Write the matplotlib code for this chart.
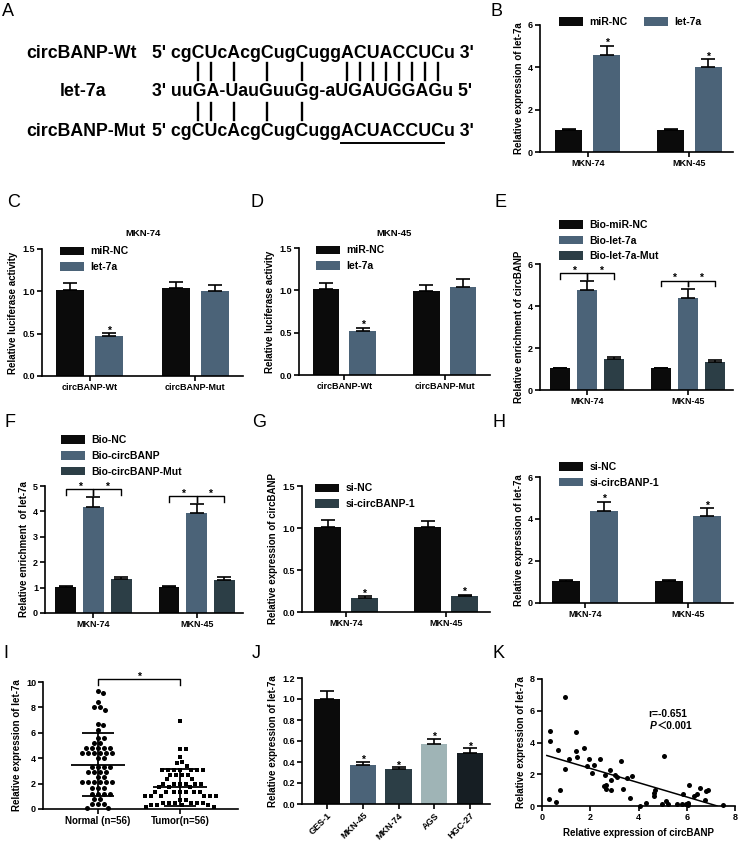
import numpy as np
import matplotlib
matplotlib.use('Agg')
import matplotlib.pyplot as plt
from matplotlib.font_manager import FontProperties

plt.rcParams['font.family'] = ['Liberation Sans', 'Noto Sans CJK SC', 'DejaVu Sans']
plt.rcParams['font.weight'] = 'bold'
plt.rcParams['axes.labelweight'] = 'bold'
plt.rcParams['axes.titleweight'] = 'bold'

# ---------------- data ----------------
cells = ['MKN-74', 'MKN-45']
constructs = ['circBANP-Wt', 'circBANP-Mut']

b_mirnc = [1.02, 1.02]
b_mirnc_err = [0.05, 0.05]
b_let7a = [4.6, 4.02]
b_let7a_err = [0.42, 0.38]

c_mirnc = [1.01, 1.04]
c_mirnc_err = [0.09, 0.07]
c_let7a = [0.47, 1.00]
c_let7a_err = [0.04, 0.08]

d_mirnc = [1.01, 0.99]
d_mirnc_err = [0.08, 0.07]
d_let7a = [0.52, 1.04]
d_let7a_err = [0.04, 0.09]

e_labels = ['Bio-miR-NC', 'Bio-let-7a', 'Bio-let-7a-Mut']
e_vals = [[1.03, 1.03], [4.75, 4.38], [1.46, 1.35]]
e_errs = [[0.04, 0.04], [0.45, 0.42], [0.11, 0.09]]
e_brackets = [5.55, 5.2]

f_labels = ['Bio-NC', 'Bio-circBANP', 'Bio-circBANP-Mut']
f_vals = [[1.03, 1.03], [4.18, 3.93], [1.33, 1.30]]
f_errs = [[0.05, 0.05], [0.4, 0.38], [0.1, 0.1]]
f_brackets = [4.88, 4.6]

g_sinc = [1.01, 1.01]
g_sinc_err = [0.08, 0.07]
g_si = [0.17, 0.19]
g_si_err = [0.015, 0.015]

h_sinc = [1.03, 1.03]
h_sinc_err = [0.05, 0.05]
h_si = [4.4, 4.15]
h_si_err = [0.42, 0.38]

i_normal = [9.3, 9.1, 8.4, 8.0, 8.0, 7.8, 6.7, 6.6, 6.2, 5.6, 5.6, 5.2, 5.2,
            4.8, 4.8, 4.8, 4.8, 4.8, 4.4, 4.4, 4.4, 4.4, 4.4, 4.4, 4.0, 4.0,
            3.3, 3.3, 3.3, 3.3, 2.9, 2.9, 2.9, 2.9, 2.5, 2.5,
            2.1, 2.1, 2.1, 2.1, 2.1, 2.1, 1.65, 1.65, 1.65, 1.2, 1.2, 1.2, 1.2,
            0.8, 0.8, 0.4, 0.4, 0.4, 0.1, 0.1]
i_tumor = [6.9, 4.7, 4.7, 4.1, 3.7, 3.6, 3.4,
           3.1, 3.1, 3.1, 3.1, 3.1, 3.1, 3.1, 2.7, 2.7, 2.7, 2.7, 2.35, 2.35,
           2.0, 2.0, 2.0, 2.0, 2.0, 2.0, 1.7, 1.7, 1.7,
           1.35, 1.35, 1.35, 1.35, 1.35, 1.35, 1.35, 1.05, 1.05, 1.05, 1.05, 1.05, 1.05,
           0.7, 0.7, 0.45, 0.45, 0.45, 0.45, 0.45, 0.45, 0.3, 0.3, 0.3, 0.3, 0.15, 0.15]
i_groups = ['Normal (n=56)', 'Tumor(n=56)']
i_means = [3.5, 1.7]
i_sds = [2.5, 1.45]

j_lines = ['GES-1', 'MKN-45', 'MKN-74', 'AGS', 'HGC-27']
j_vals = [1.0, 0.37, 0.33, 0.57, 0.49]
j_errs = [0.08, 0.03, 0.02, 0.05, 0.04]

k_circ = [0.28, 0.34, 0.34, 0.59, 0.66, 0.76, 0.94, 0.94, 1.13, 1.43, 1.43, 1.45,
          1.74, 1.86, 1.96, 2.08, 2.17, 2.41, 2.55, 2.62, 2.65, 2.66, 2.83, 2.86,
          2.88, 3.01, 3.12, 3.26, 3.37, 3.53, 3.66, 3.75, 4.06, 4.32, 4.65, 4.65,
          4.68, 4.97, 5.06, 5.13, 5.21, 5.59, 5.83, 5.82, 5.97, 6.06, 6.10, 6.07,
          6.32, 6.41, 6.55, 6.76, 6.80, 6.90, 7.52]
k_let7a = [0.42, 4.74, 4.08, 0.25, 3.52, 0.99, 6.88, 2.36, 2.93, 4.65, 3.45, 3.09,
           3.66, 2.53, 2.93, 2.08, 2.57, 2.95, 1.26, 1.98, 1.30, 1.05, 2.25, 1.03,
           1.66, 1.98, 1.85, 2.82, 1.05, 1.75, 0.53, 1.90, 0.02, 0.19, 0.63, 0.84,
           1.01, 0.11, 3.12, 0.32, 0.11, 0.15, 0.78, 0.11, 0.13, 0.21, 1.35, 0.04,
           0.65, 0.74, 1.16, 0.36, 0.95, 1.03, 0.06]
k_fit = (3.27, -0.45)   # intercept, slope as drawn
k_fit_x = (0.2, 7.25)

wt_seq = "cgCUcAcgCugCuggACUACCUCu"
mir_seq = "uuGA-UauGuuGg-aUGAUGGAGu"
mut_pairs = 5  # only the first five pairs remain in the mutant

# ---------------- style ----------------
BLACK = '#0b0b0b'
SLATE = '#4b6378'
DARK = '#2c3e46'
LIGHT = '#9fb4b6'
DARKEST = '#161e23'

W, H = 738, 842
fig = plt.figure(figsize=(W / 100, H / 100), dpi=100)


def px_rect(l, t, r, b):
    return [l / W, 1 - b / H, (r - l) / W, (b - t) / H]


def style(ax):
    for s in ['top', 'right']:
        ax.spines[s].set_visible(False)
    for s in ['left', 'bottom']:
        ax.spines[s].set_linewidth(1.2)
    ax.tick_params(width=1.2, length=3.5, labelsize=6.5, pad=1.5)


def bars(ax, x, vals, errs, w, color, label=None):
    ax.bar(x, vals, w, color=color, label=label, zorder=2)
    ax.errorbar(x, vals, yerr=[np.zeros(len(vals)), errs], fmt='none',
                ecolor='black', elinewidth=1.2, capsize=4.8, capthick=1.2, zorder=3)


def star(ax, x, y):
    ax.text(x, y, '*', ha='center', va='bottom', fontsize=7.5)


def legend(ax, x, y, ncol=1, **kw):
    ax.legend(loc='upper left', bbox_to_anchor=(x, y), ncol=ncol, frameon=False,
              fontsize=7.5, handlelength=2.3, handleheight=0.9, handletextpad=0.6,
              borderpad=0, borderaxespad=0, labelspacing=0.55, columnspacing=1.6, **kw)


def letter(x, y, s):
    fig.text(x / W, 1 - y / H, s, fontsize=13, fontweight='normal', ha='left', va='top')


# ---------------- A ----------------
letter(2, 3, 'A')
rend = fig.canvas.get_renderer()
prop = FontProperties(family=['Liberation Sans'], weight='bold', size=12.8)


def width(s):
    if not s:
        return 0.0
    w, _, _ = rend.get_text_width_height_descent(s, prop, ismath=False)
    return w


x0 = 152
rows_y = [53, 92, 131]
names = ['circBANP-Wt', 'let-7a', 'circBANP-Mut']
name_x = [26, 60, 26]
seqs = ["5' " + wt_seq + " 3'", "3' " + mir_seq + " 5'", "5' " + wt_seq + " 3'"]
for nm, nx, sq, ry in zip(names, name_x, seqs, rows_y):
    fig.text(nx / W, 1 - ry / H, nm, fontproperties=prop, ha='left', va='center')
    fig.text(x0 / W, 1 - ry / H, sq, fontproperties=prop, ha='left', va='center')

pair_idx = [i for i, c in enumerate(wt_seq) if c.isupper()]
for k, i in enumerate(pair_idx):
    xc = x0 + width("5' " + wt_seq[:i]) + width(wt_seq[i]) / 2
    fig.add_artist(plt.Line2D([xc / W, xc / W], [1 - 63 / H, 1 - 80 / H], color='black', lw=1.7))
    if k < mut_pairs:
        fig.add_artist(plt.Line2D([xc / W, xc / W], [1 - 103 / H, 1 - 120 / H], color='black', lw=1.7))
u0 = x0 + width("5' " + wt_seq[:15])
u1 = x0 + width("5' " + wt_seq[:23])
fig.add_artist(plt.Line2D([u0 / W, u1 / W], [1 - 143 / H, 1 - 143 / H], color='black', lw=1.4))

# ---------------- B ----------------
letter(491, 3, 'B')
ax = fig.add_axes(px_rect(540, 25, 733, 152))
style(ax)
x = np.arange(len(cells))
bars(ax, x - 0.185, b_mirnc, b_mirnc_err, 0.265, BLACK, 'miR-NC')
bars(ax, x + 0.185, b_let7a, b_let7a_err, 0.265, SLATE, 'let-7a')
for xi, v, e in zip(x + 0.185, b_let7a, b_let7a_err):
    star(ax, xi, v + e - 0.12)
ax.set_xlim(-0.47, 1.43)
ax.set_ylim(0, 6)
ax.set_yticks([0, 2, 4, 6])
ax.set_xticks(x, cells)
ax.set_ylabel('Relative expression of let-7a', fontsize=7, labelpad=3)
legend(ax, 0.1, 1.06, ncol=2)

# ---------------- C / D ----------------
for lab, lx, rect, title, nc, nce, lt, lte in [
        ('C', 7, (42, 249, 243, 376), 'MKN-74', c_mirnc, c_mirnc_err, c_let7a, c_let7a_err),
        ('D', 250, (299, 248, 490, 375), 'MKN-45', d_mirnc, d_mirnc_err, d_let7a, d_let7a_err)]:
    letter(lx, 194, lab)
    ax = fig.add_axes(px_rect(*rect))
    style(ax)
    bars(ax, x - 0.182, nc, nce, 0.266, BLACK, 'miR-NC')
    bars(ax, x + 0.182, lt, lte, 0.266, SLATE, 'let-7a')
    star(ax, x[0] + 0.182, lt[0] + lte[0] - 0.03)
    ax.set_xlim(-0.45, 1.45)
    ax.set_ylim(0, 1.5)
    ax.set_yticks([0, 0.5, 1.0, 1.5])
    ax.set_xticks(x, constructs)
    ax.set_title(title, fontsize=6.8, pad=9)
    ax.set_ylabel('Relative luciferase activity', fontsize=7, labelpad=3)
    legend(ax, 0.09, 1.02)

# ---------------- E / F ----------------
for lab, lpos, rect, names3, vals, errs, brk, ylim, yt, ylab, lanchor in [
        ('E', (494, 194), (540, 264, 733, 390), e_labels, e_vals, e_errs, e_brackets,
         6, [0, 2, 4, 6], 'Relative enrichment of circBANP', (0.1, 1.35)),
        ('F', (5, 414), (45, 486, 243, 613), f_labels, f_vals, f_errs, f_brackets,
         5, [0, 1, 2, 3, 4, 5], 'Relative enrichment  of let-7a', (0.08, 1.4))]:
    letter(*lpos, lab)
    ax = fig.add_axes(px_rect(*rect))
    style(ax)
    cols = [BLACK, SLATE, DARK]
    offs = [-0.27, 0, 0.27]
    for nm, v, e, c, o in zip(names3, vals, errs, cols, offs):
        bars(ax, x + o, v, e, 0.198, c, nm)
    for gi, h in enumerate(brk):
        drop = 0.045 * ylim
        for a, b in [(-0.27, 0), (0, 0.27)]:
            ax.plot([gi + a, gi + a, gi + b, gi + b], [h - drop, h, h, h - drop],
                    color='black', lw=1.0, zorder=4)
            star(ax, gi + (a + b) / 2, h - 0.02 * ylim)
    ax.set_xlim(-0.47, 1.45)
    ax.set_ylim(0, ylim)
    ax.set_yticks(yt)
    ax.set_xticks(x, cells)
    ax.set_ylabel(ylab, fontsize=7, labelpad=3)
    legend(ax, *lanchor)

# ---------------- G / H ----------------
for lab, lx, rect, sinc, sie, sv, sve, col, ylim, yt, ylab, lanchor in [
        ('G', 252, (302, 486, 490, 612), g_sinc, g_sinc_err, g_si, g_si_err, DARK,
         1.5, [0, 0.5, 1.0, 1.5], 'Relative expression of circBANP', (0.07, 1.02)),
        ('H', 493, (540, 477, 733, 603), h_sinc, h_sinc_err, h_si, h_si_err, SLATE,
         6, [0, 2, 4, 6], 'Relative expression of let-7a', (0.1, 1.12))]:
    letter(lx, 414, lab)
    ax = fig.add_axes(px_rect(*rect))
    style(ax)
    bars(ax, x - 0.185, sinc, sie, 0.27, BLACK, 'si-NC')
    bars(ax, x + 0.185, sv, sve, 0.27, col, 'si-circBANP-1')
    for xi, v, e in zip(x + 0.185, sv, sve):
        star(ax, xi, v + e - 0.02 * ylim)
    ax.set_xlim(-0.44, 1.44)
    ax.set_ylim(0, ylim)
    ax.set_yticks(yt)
    ax.set_xticks(x, cells)
    ax.set_ylabel(ylab, fontsize=7, labelpad=3)
    legend(ax, *lanchor)

# ---------------- I ----------------
letter(3, 645, 'I')
ax = fig.add_axes(px_rect(43, 682, 238, 809))
style(ax)
xpx = 195 / (1.71 + 0.67)   # pixels per x unit
ypx = 127 / 10.0            # pixels per y unit


def swarm(vals, d=5.6, step=0.5):
    # greedy beeswarm in pixel space: closest free spot to the centre line
    vals = np.asarray(vals, dtype=float)
    order = np.argsort(-vals, kind='stable')
    placed = []
    offs = np.zeros(len(vals))
    for i in order:
        y = vals[i] * ypx
        k = 0
        while True:
            cands = [0.0] if k == 0 else [k * step, -k * step]
            ok = None
            for c in cands:
                if all((c - px) ** 2 + (y - py) ** 2 >= d * d for px, py in placed):
                    ok = c
                    break
            if ok is not None:
                placed.append((ok, y))
                offs[i] = ok / xpx
                break
            k += 1
    return offs


for gi, (vals, mk, ms) in enumerate([(i_normal, 'o', 3.6), (i_tumor, 's', 3.3)]):
    ax.plot(gi + swarm(vals), vals, mk, color='black', ms=ms, mew=0, zorder=3, clip_on=False)
    ax.hlines(i_means[gi], gi - 0.33, gi + 0.33, color='black', lw=1.3, zorder=4)
    ax.errorbar([gi], [i_means[gi]], yerr=[i_sds[gi]], fmt='none', ecolor='black',
                elinewidth=1.3, capsize=11.5, capthick=1.3, zorder=4)
ax.plot([0, 0, 1, 1], [9.8, 10.2, 10.2, 9.8], color='black', lw=1.0, clip_on=False)
star(ax, 0.5, 10.0)
ax.set_xlim(-0.67, 1.71)
ax.set_ylim(0, 10)
ax.set_yticks([0, 2, 4, 6, 8, 10])
ax.set_xticks([0, 1], i_groups)
ax.tick_params(axis='x', labelsize=7)
ax.set_ylabel('Relative expression of let-7a', fontsize=7, labelpad=3)

# ---------------- J ----------------
letter(252, 645, 'J')
ax = fig.add_axes(px_rect(302, 678, 490, 804))
style(ax)
xj = np.arange(len(j_lines))
bars(ax, xj, j_vals, j_errs, 0.73, [BLACK, SLATE, DARK, LIGHT, DARKEST])
for xi, v, e in zip(xj[1:], j_vals[1:], j_errs[1:]):
    star(ax, xi, v + e - 0.03)
ax.set_xlim(-0.7, 4.56)
ax.set_ylim(0, 1.2)
ax.set_yticks(np.arange(0, 1.21, 0.2))
ax.set_xticks(xj, j_lines, rotation=45, ha='right', rotation_mode='anchor')
ax.set_ylabel('Relative expression of let-7a', fontsize=7, labelpad=3)

# ---------------- K ----------------
letter(493, 645, 'K')
ax = fig.add_axes(px_rect(542, 679, 735, 806))
style(ax)
ax.plot(k_circ, k_let7a, 'o', color='black', ms=3.6, mew=0, clip_on=False, zorder=3)
fx = np.array(k_fit_x)
ax.plot(fx, k_fit[0] + k_fit[1] * fx, color='black', lw=1.1)
ax.text(5.23, 5.8, 'r=-0.651', ha='center', va='center', fontsize=7.4)
ax.text(4.75, 5.03, 'P', ha='right', va='center', fontsize=7.4, fontstyle='italic')
ax.text(4.75, 5.03, '＜0.001', ha='left', va='center', fontsize=7.4)
ax.set_xlim(0, 8)
ax.set_ylim(0, 8)
ax.set_xticks([0, 2, 4, 6, 8])
ax.set_yticks([0, 2, 4, 6, 8])
ax.set_xlabel('Relative expression of circBANP', fontsize=7, labelpad=4)
ax.set_ylabel('Relative expression of let-7a', fontsize=7, labelpad=3)

fig.savefig('out.png', dpi=100)
